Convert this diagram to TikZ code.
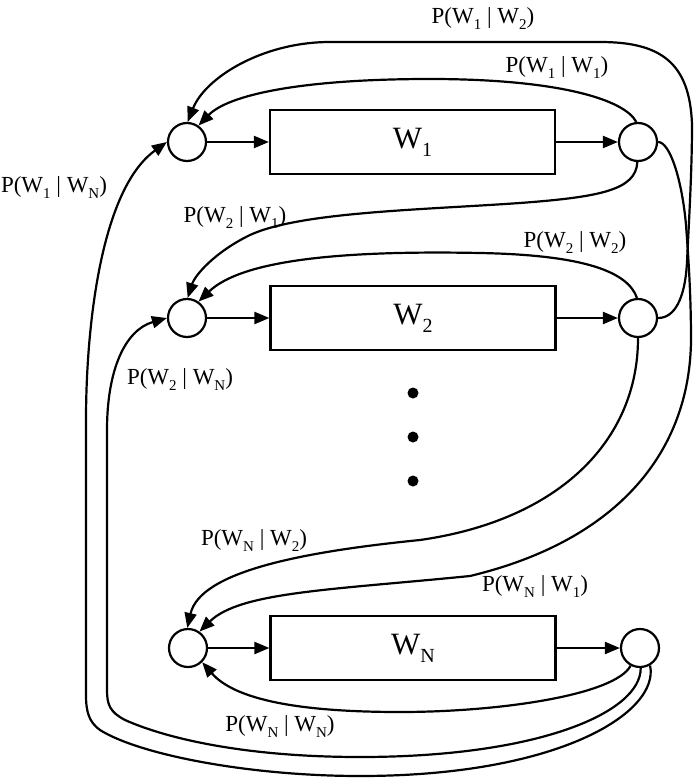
\documentclass[tikz,border=0pt]{standalone}
\usepackage{fontspec}
\setmainfont{Liberation Serif}
\usetikzlibrary{arrows.meta}
\newcommand\lsub[1]{\raisebox{-6pt}{\fontsize{15}{15}\selectfont #1}}
\newcommand\plab[2]{P(W\lsub{#1} | W\lsub{#2})}
\newcommand\bsub[1]{\raisebox{-8pt}{\fontsize{20}{20}\selectfont #1}}
\begin{document}
\begin{tikzpicture}[x=1pt,y=-1pt,line width=2.2pt,
  junc/.style={circle,draw,minimum size=38pt,inner sep=0pt},
  blk/.style={draw,minimum width=285pt,minimum height=64pt,inner sep=0pt,font=\fontsize{31}{33}\selectfont},
  lab/.style={font=\fontsize{23}{25}\selectfont,inner sep=0pt},
  arr/.style={-{Triangle[length=15pt,width=12pt]}},
  dotn/.style={circle,fill,inner sep=0pt,minimum size=11pt}]
\useasboundingbox (0,0) rectangle (694,778);
% row 1
\node[junc] (L1) at (187,142) {};
\node[blk] (B1) at (412.5,142) {W\bsub{1}};
\node[junc] (R1) at (638,142) {};
% row 2
\node[junc] (L2) at (187,318) {};
\node[blk] (B2) at (413,318) {W\bsub{2}};
\node[junc] (R2) at (638,318) {};
% row N
\node[junc] (LN) at (188,648) {};
\node[blk] (BN) at (413,648) {W\bsub{N}};
\node[junc] (RN) at (640,648) {};
% dots
\node[dotn] (d1) at (413,393) {};
\node[dotn] (d2) at (413,437) {};
\node[dotn] (d3) at (413,481) {};
% straight arrows
\draw[arr] (L1) -- (B1);
\draw[arr] (B1) -- (R1);
\draw[arr] (L2) -- (B2);
\draw[arr] (B2) -- (R2);
\draw[arr] (LN) -- (BN);
\draw[arr] (BN) -- (RN);
% P(W1|W1)
\draw[arr] (R1.95) .. controls (625,100) and (560,79) .. (430,79) .. controls (300,79) and (228,95) .. (L1.55);
% P(W1|W2)
\draw[arr] (R2.east) .. controls (674,318) and (685,300) .. (687,262) .. controls (689,220) and (692,170) .. (692,125) .. controls (690,62) and (660,42) .. (600,42) -- (330,42) .. controls (262,42) and (205,78) .. (L1.88);
% P(W2|W1)
\draw[arr] (R1.-92) .. controls (636,190) and (600,197) .. (520,203) .. controls (420,210) and (300,212) .. (250,235) .. controls (215,252) and (195,275) .. (L2.88);
% P(W2|W2)
\draw[arr] (R2.93) .. controls (628,272) and (585,255) .. (480,253) .. controls (330,250) and (240,262) .. (L2.55);
% P(WN|W1)
\draw[arr] (R1.east) .. controls (670,142) and (682,180) .. (686,225) .. controls (689,265) and (691,300) .. (691,340) .. controls (690,450) and (620,540) .. (470,576) .. controls (330,590) and (240,592) .. (LN.55);
% P(WN|W2)
\draw[arr] (R2.-90) .. controls (638,440) and (560,520) .. (420,540) .. controls (300,552) and (200,572) .. (LN.92);
% P(W1|WN)
\draw[arr] (RN.-60) .. controls (660,712) and (560,776) .. (360,776) .. controls (250,776) and (140,755) .. (100,730) .. controls (89,722) and (86,712) .. (86,695) -- (86,420) .. controls (86,330) and (100,190) .. (L1.west);
% P(W2|WN)
\draw[arr] (RN.-88) .. controls (641,712) and (540,757) .. (360,757) .. controls (250,757) and (170,740) .. (125,720) .. controls (110,712) and (107,705) .. (107,690) -- (107,430) .. controls (107,370) and (125,330) .. (L2.west);
% P(WN|WN)
\draw[arr] (RN.-118) .. controls (615,695) and (500,712) .. (400,712) .. controls (300,712) and (235,700) .. (LN.-45);
% labels
\node[lab] (t12) at (483,19) {\plab{1}{2}};
\node[lab] (t11) at (557,68) {\plab{1}{1}};
\node[lab] (t1N) at (54,188) {\plab{1}{N}};
\node[lab] (t21) at (235,218) {\plab{2}{1}};
\node[lab] (t22) at (575,243) {\plab{2}{2}};
\node[lab] (t2N) at (180,380) {\plab{2}{N}};
\node[lab] (tN2) at (254,541) {\plab{N}{2}};
\node[lab] (tN1) at (535,587) {\plab{N}{1}};
\node[lab] (tNN) at (280,727) {\plab{N}{N}};
\end{tikzpicture}
\end{document}
